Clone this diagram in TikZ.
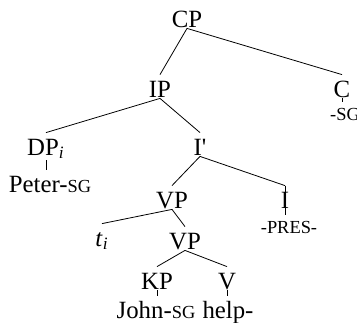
\documentclass[tikz,border=0pt]{standalone}
\usepackage{fontspec}
\setmainfont{Liberation Serif}
\usetikzlibrary{positioning}
\newcommand{\feattext}{\fontsize{9.2}{11}\selectfont}
\tikzset{
    line width=1.3pt,
    cat/.style = {inner sep=0pt, anchor=base, text height=11pt, text depth=0.5pt,
                  font=\fontsize{12.4}{14}\selectfont},
    feat/.style = {inner sep=0pt, anchor=base, text height=9pt, text depth=0.5pt,
                   font=\feattext},
    tick/.style = {shorten <=2pt}
}

\begin{document}
\begin{tikzpicture}[x=0.5pt,y=-0.5pt]
        \useasboundingbox (0,0) rectangle (357,322);
        \node[cat] (cp) at (187, 27) {CP};
        \node[cat] (ip) at (160, 97) {IP};
        \node[cat] (c) at (342, 97) {C};
        \node[feat] (csg) at (345, 120) {-SG};
        \node[cat] (dp) at (46, 155) {DP\textsubscript{\textit{i}}};
        \node[cat] (ibar) at (200, 155) {I\textquotesingle};
        \node[cat] (peter) at (50, 192) {Peter-{\feattext SG}};
        \node[cat] (vpa) at (172, 208) {VP};
        \node[cat] (i) at (285, 208) {I};
        \node[feat] (pres) at (289, 233) {-PRES-};
        \node[cat] (t) at (102, 246) {\textit{t}\textsubscript{\textit{i}}};
        \node[cat] (vpb) at (185, 249) {VP};
        \node[cat] (kp) at (157, 289) {KP};
        \node[cat] (v) at (227, 289) {V};
        \node[cat] (john) at (156, 318) {John-{\feattext SG}};
        \node[cat] (help) at (228, 318) {help-};

        % branches
        \draw (cp.south) -- (ip.north);
        \draw (cp.south) -- (c.north);
        \draw (ip.south) -- (dp.north);
        \draw (ip.south) -- (ibar.north);
        \draw (ibar.south) -- (vpa.north);
        \draw (ibar.south) -- (i.north);
        \draw (vpa.south) -- (t.north);
        \draw (vpa.south) -- (vpb.north);
        \draw (vpb.south) -- (kp.north);
        \draw (vpb.south) -- (v.north);

        % lexical ticks
        \draw (c.south) -- (c.south |- csg.north);
        \draw[tick] (dp.south) -- (dp.south |- peter.north);
        \draw (i.north) -- (i.north |- pres.north);
        \draw (kp.south) -- (kp.south |- john.north);
        \draw (v.south) -- (v.south |- help.north);
    \end{tikzpicture}
\end{document}
